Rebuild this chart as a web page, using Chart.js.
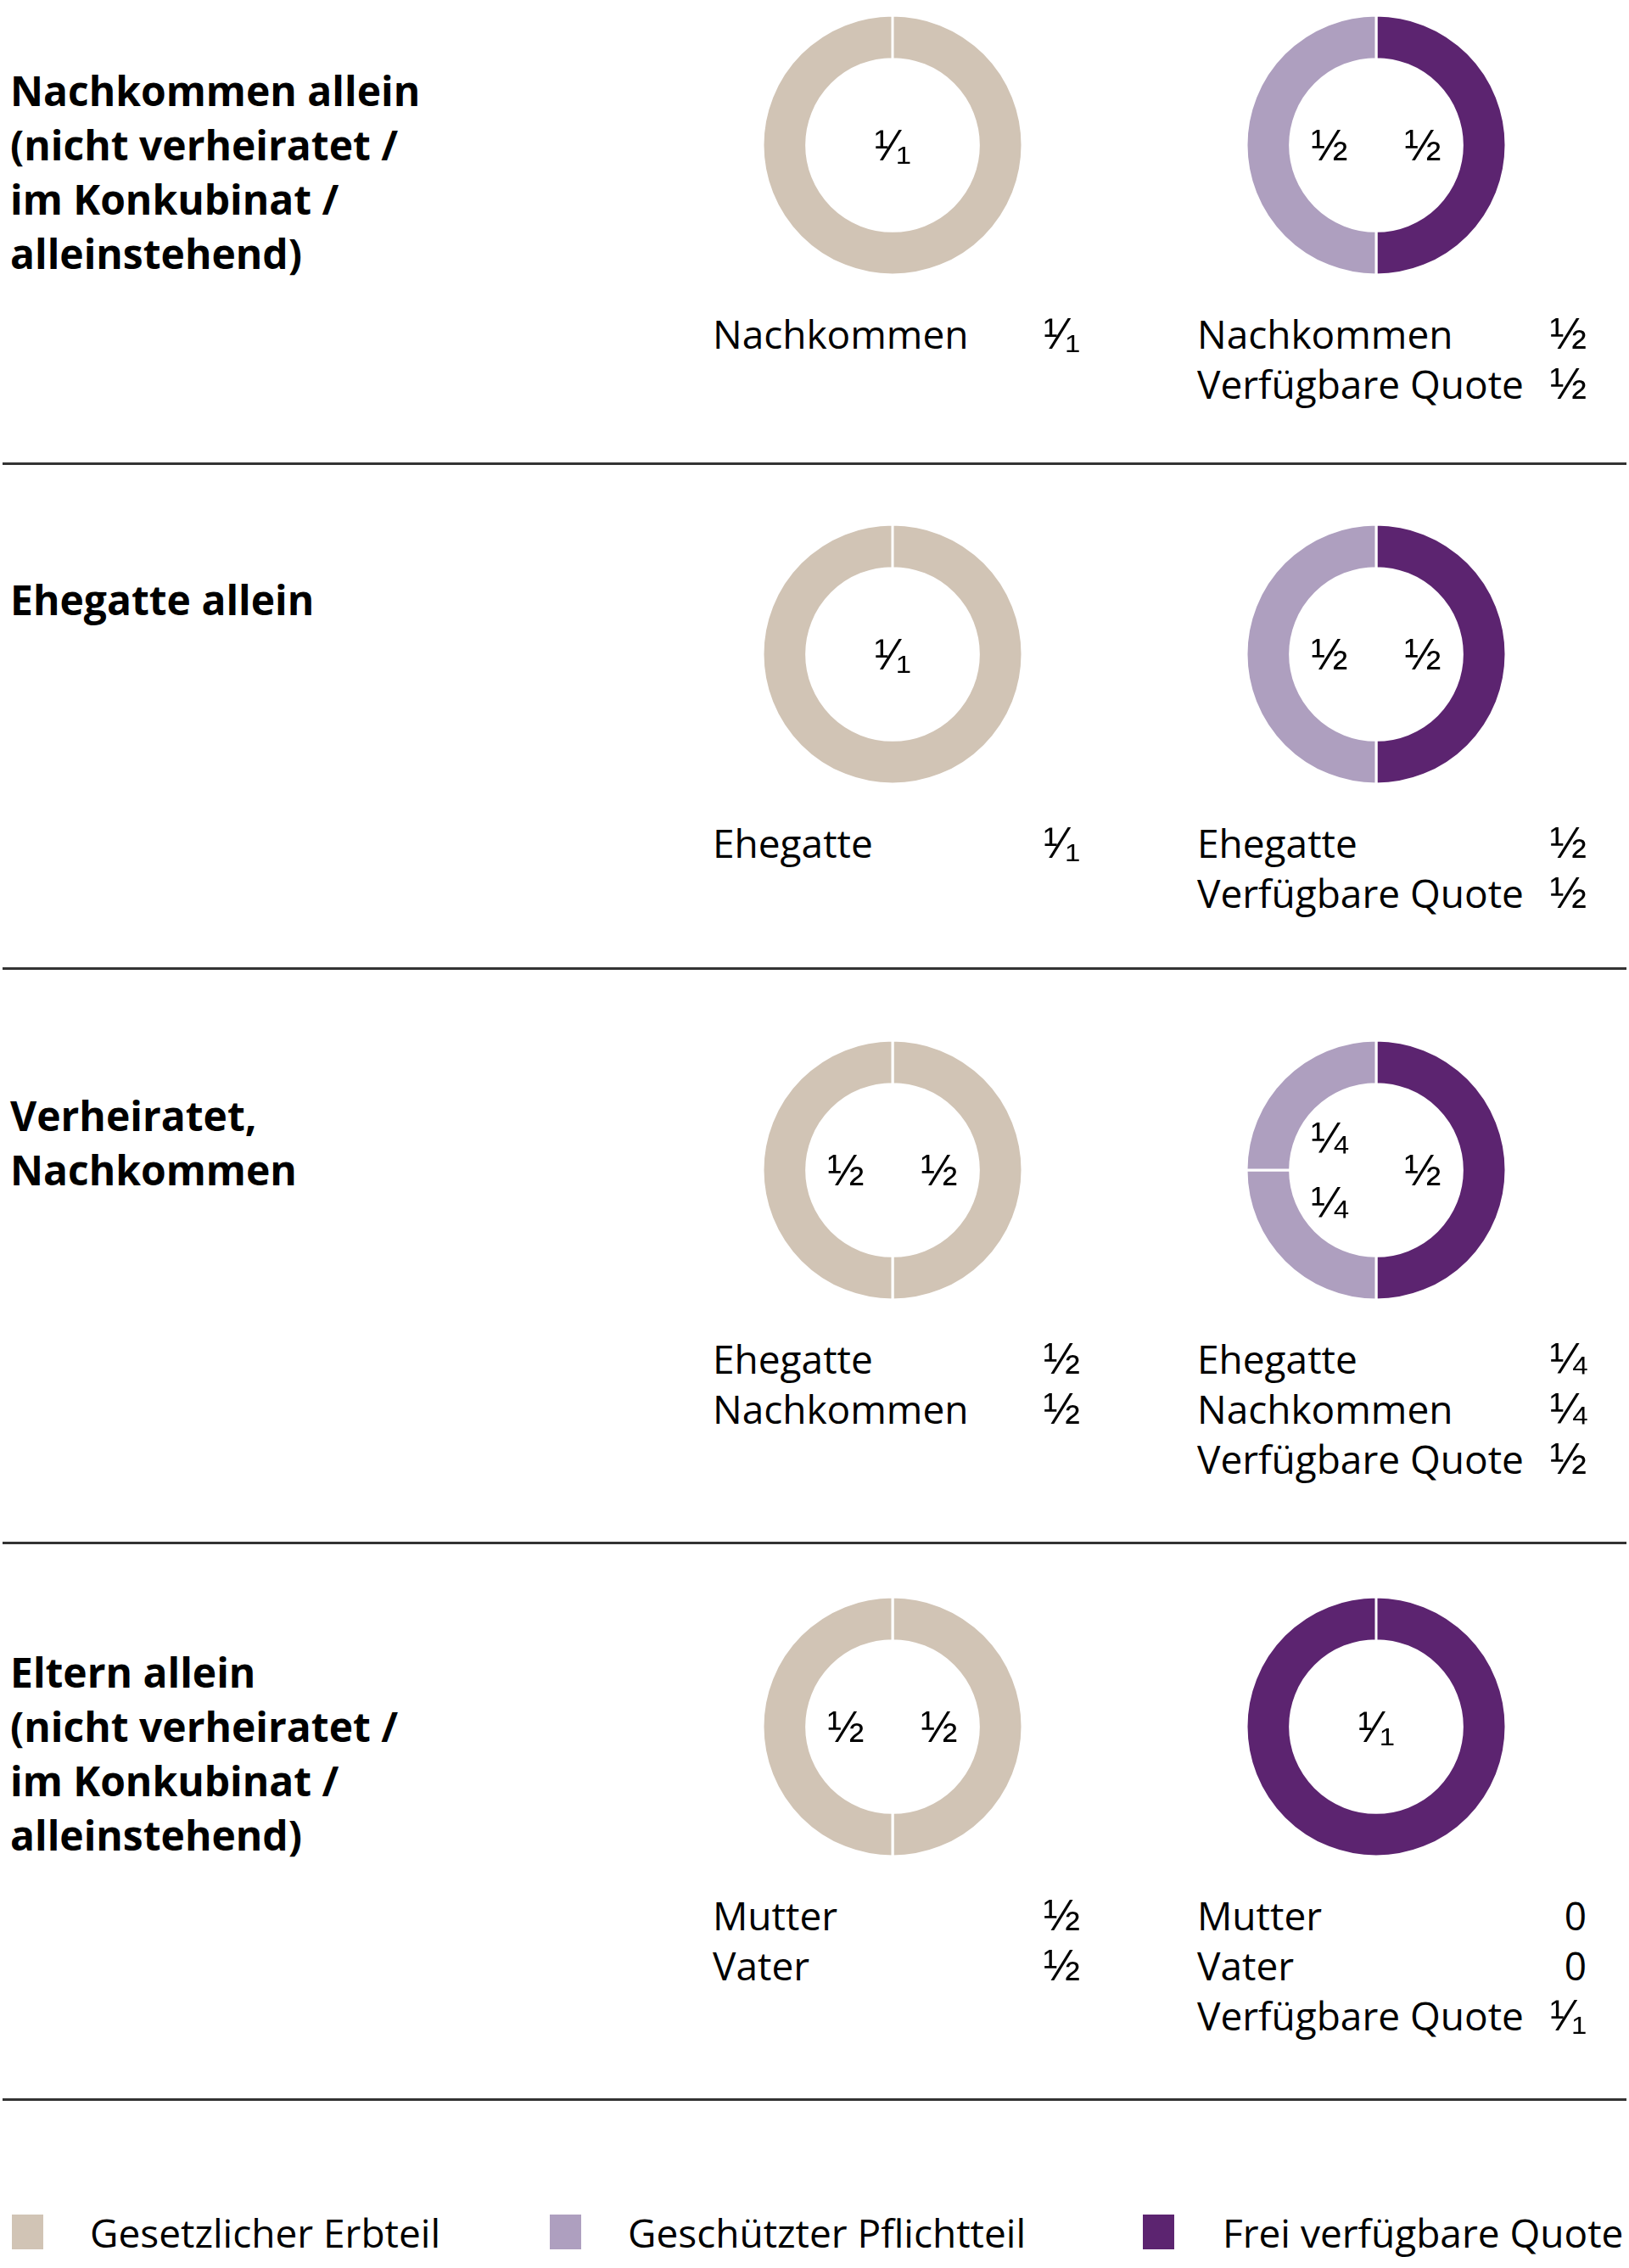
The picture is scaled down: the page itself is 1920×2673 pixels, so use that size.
<!DOCTYPE html>
<html lang="de">
<head>
<meta charset="utf-8">
<script src="https://cdn.jsdelivr.net/npm/chart.js@4.4.1/dist/chart.umd.min.js"></script>
<style>
  html, body { margin: 0; padding: 0; background: #fff; }
  body { width: 1920px; height: 2673px; position: relative; overflow: hidden; font-family: "Open Sans", sans-serif; color: #000; }
  .title { position: absolute; left: 12px; font-weight: 700; font-size: 48px; line-height: 64px; white-space: nowrap; }
  .donut { position: absolute; width: 320px; height: 320px; }
  .list { position: absolute; font-size: 46px; line-height: 59px; }
  .list .row { display: flex; justify-content: space-between; align-items: baseline; white-space: nowrap; height: 59px; }
  .list .frac { font-family: "Liberation Sans", "DejaVu Sans", sans-serif; font-size: 52px; line-height: 59px; }
  .rule { position: absolute; left: 3px; width: 1914px; height: 3px; background: #333; }
  .legend-item { position: absolute; top: 2610px; height: 42px; font-size: 46px; line-height: 42px; white-space: nowrap; }
  .legend-item .box { position: absolute; left: 0; top: 0; width: 37px; height: 41px; }
  .legend-item .text { position: absolute; top: 0; }
</style>
</head>
<body>
<script>
// rows of the chart
const titles = [
  ["Nachkommen allein", "(nicht verheiratet /", "im Konkubinat /", "alleinstehend)"],
  ["Ehegatte allein"],
  ["Verheiratet,", "Nachkommen"],
  ["Eltern allein", "(nicht verheiratet /", "im Konkubinat /", "alleinstehend)"]
];

// left donut: gesetzlicher Erbteil
const erbteilLabels = [["Nachkommen"], ["Ehegatte"], ["Ehegatte", "Nachkommen"], ["Mutter", "Vater"]];
const erbteilValues = [[1], [1], [0.5, 0.5], [0.5, 0.5]];

// right donut: Pflichtteil + verfügbare Quote (last entry is always the Quote)
const pflichtLabels = [
  ["Nachkommen", "Verfügbare Quote"],
  ["Ehegatte", "Verfügbare Quote"],
  ["Ehegatte", "Nachkommen", "Verfügbare Quote"],
  ["Mutter", "Vater", "Verfügbare Quote"]
];
const pflichtValues = [[0.5, 0.5], [0.5, 0.5], [0.25, 0.25, 0.5], [0, 0, 1]];

const legendLabels = ["Gesetzlicher Erbteil", "Geschützter Pflichtteil", "Frei verfügbare Quote"];
const colors = ["#d1c4b5", "#ae9fbf", "#5c2470"];

// layout
const rowCenters = [171, 771, 1379, 2035];
const leftX = 1052, rightX = 1622;
const rules = [545, 1140, 1817, 2473];
const legendX = [14, 648, 1347];

function fractionText(v) {
  if (v === 0) return "0";
  if (v === 1) return "\u00B9\u2044\u2081";
  if (v === 0.5) return "\u00BD";
  if (v === 0.25) return "\u00BC";
  return String(v);
}

const innerLabels = {
  id: "innerLabels",
  afterDatasetsDraw(chart) {
    const ctx = chart.ctx;
    const meta = chart.getDatasetMeta(0);
    const values = chart.data.datasets[0].data;
    ctx.save();
    ctx.font = "52px 'Liberation Sans', 'DejaVu Sans'";
    ctx.fillStyle = "#000";
    ctx.textAlign = "center";
    ctx.textBaseline = "alphabetic";
    meta.data.forEach((arc, i) => {
      if (!values[i]) return;
      const p = arc.getProps(["x", "y", "startAngle", "endAngle"], true);
      let tx = p.x, ty = p.y;
      if (p.endAngle - p.startAngle < Math.PI * 1.99) {
        const mid = (p.startAngle + p.endAngle) / 2;
        const c = Math.cos(mid), s = Math.sin(mid);
        tx = p.x + (Math.abs(c) > 0.1 ? Math.sign(c) * 55 : 0);
        ty = p.y + s * 54;
      }
      ctx.fillText(fractionText(values[i]), tx, ty + 18);
    });
    ctx.restore();
  }
};

function makeDonut(cx, cy, labels, data, bg) {
  const div = document.createElement("div");
  div.className = "donut";
  div.style.left = (cx - 160) + "px";
  div.style.top = (cy - 160) + "px";
  const canvas = document.createElement("canvas");
  canvas.width = 320;
  canvas.height = 320;
  div.appendChild(canvas);
  document.body.appendChild(div);
  new Chart(canvas, {
    type: "doughnut",
    data: {
      labels: labels,
      datasets: [{ data: data, backgroundColor: bg, borderColor: "#fff", borderWidth: 3 }]
    },
    options: {
      responsive: false,
      animation: false,
      radius: 153,
      cutout: 105,
      layout: { padding: 0 },
      plugins: { legend: { display: false }, tooltip: { enabled: false } }
    },
    plugins: [innerLabels]
  });
}

function makeList(x, top, width, labels, values) {
  const div = document.createElement("div");
  div.className = "list";
  div.style.left = x + "px";
  div.style.top = top + "px";
  div.style.width = width + "px";
  labels.forEach((lab, i) => {
    const row = document.createElement("div");
    row.className = "row";
    const a = document.createElement("span");
    a.textContent = lab;
    const b = document.createElement("span");
    b.className = values[i] === 0 ? "" : "frac";
    b.textContent = fractionText(values[i]);
    row.appendChild(a);
    row.appendChild(b);
    div.appendChild(row);
  });
  document.body.appendChild(div);
}

titles.forEach((lines, r) => {
  const cy = rowCenters[r];
  const t = document.createElement("div");
  t.className = "title";
  t.style.top = (cy - 96) + "px";
  t.innerHTML = lines.join("<br>");
  document.body.appendChild(t);

  // gesetzlicher Erbteil
  makeDonut(leftX, cy, erbteilLabels[r], erbteilValues[r], erbteilValues[r].map(() => colors[0]));
  makeList(840, cy + 193, 433, erbteilLabels[r], erbteilValues[r]);

  // Pflichtteil: pie runs clockwise from the top, so the Quote comes first
  const pl = pflichtLabels[r].slice().reverse();
  const pv = pflichtValues[r].slice().reverse();
  const pc = pl.map((_, i) => i === 0 ? colors[2] : colors[1]);
  makeDonut(rightX, cy, pl, pv, pc);
  makeList(1411, cy + 193, 459, pflichtLabels[r], pflichtValues[r]);
});

rules.forEach(y => {
  const d = document.createElement("div");
  d.className = "rule";
  d.style.top = y + "px";
  document.body.appendChild(d);
});

legendLabels.forEach((lab, i) => {
  const item = document.createElement("div");
  item.className = "legend-item";
  item.style.left = legendX[i] + "px";
  item.innerHTML = '<div class="box" style="background:' + colors[i] + '"></div>' +
    '<span class="text" style="left:' + (i === 2 ? 94 : 92) + 'px">' + lab + '</span>';
  document.body.appendChild(item);
});
</script>
</body>
</html>
